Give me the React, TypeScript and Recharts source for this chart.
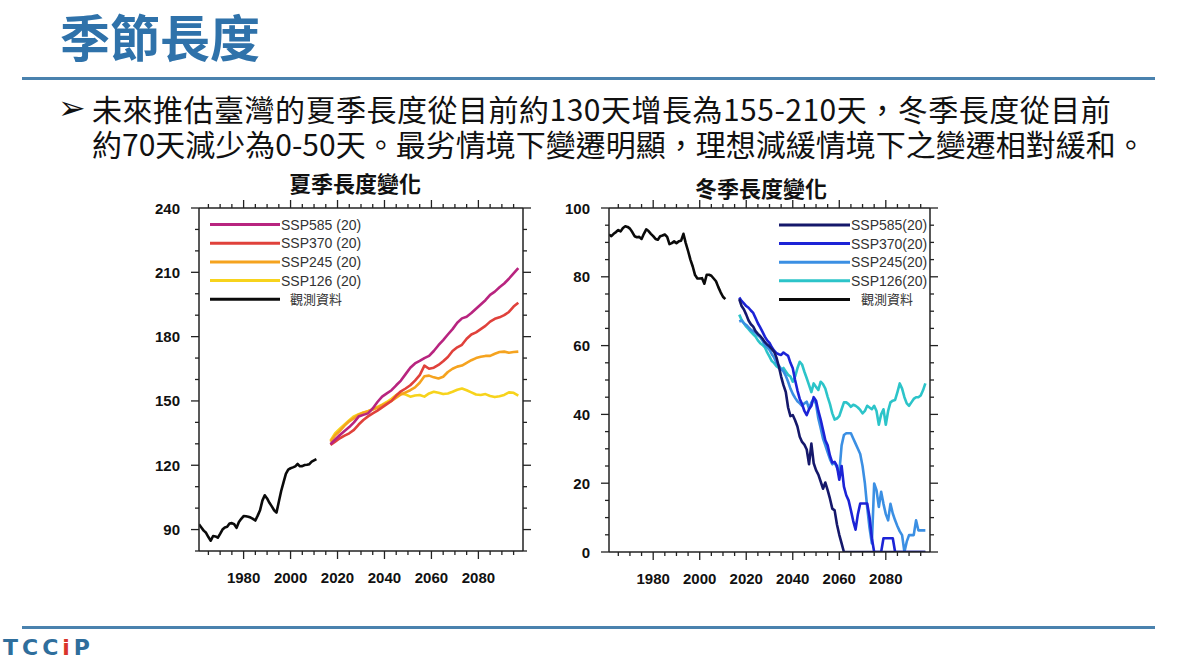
import React from 'react';
import { LineChart, Line, XAxis, YAxis } from 'recharts';

// ---------- categories ----------
const obsYears = Array.from({ length: 51 }, (_, i) => 1961 + i);
const summerYears = Array.from({ length: 41 }, (_, i) => 2017 + 2 * i);
const winterYears = Array.from({ length: 81 }, (_, i) => 2017 + i);

const scenarioNames = ['SSP585', 'SSP370', 'SSP245', 'SSP126'];
const memberCount = '(20)';
const obsLabel = '觀測資料';

const summerColors = ['#b8247f', '#e0413b', '#f5a31f', '#f7d31c'];
const winterColors = ['#15186b', '#1c23d6', '#3b8fe3', '#2cc4c9'];
const obsColor = '#0a0a0a';

// ---------- summer season length (days) ----------
const summerObs = [
  92.5, 91, 89.5, 88.5, 86.5, 84.8, 87, 86.8, 86.2, 88,
  90, 91, 91.3, 92.8, 93, 92.5, 90.8, 93.5, 95, 96.3,
  96.2, 96, 95.6, 95, 94.2, 96.5, 99, 103.5, 106, 104.5,
  102.5, 100.8, 99, 97.9, 103, 108, 112, 116, 118, 118.6,
  119, 119.5, 120.6, 119.5, 119.6, 120.1, 120.2, 120.5, 121.7, 122.3,
  122.9,
];
const summerSSP585 = [
  129.8, 132, 134.1, 136, 137.8, 140, 142.7, 143.5, 144.2, 146.5,
  149.5, 152, 153.5, 155, 157.3, 159.5, 162.5, 165.5, 167.5, 168.7,
  170, 171, 173.3, 176, 178.4, 181, 183.5, 186.5, 188.5, 189.3,
  191, 193, 195, 197, 199.5, 201, 203, 204.8, 207, 209.5, 212,
];
const summerSSP370 = [
  129.5, 131, 132.6, 133.8, 134.9, 136.5, 139, 141.1, 142.8, 144.2,
  145.5, 147, 148.5, 150, 152.5, 154.5, 155.8, 157.3, 159.5, 162,
  166.5, 165, 165.5, 166.8, 168.5, 170.5, 173.3, 175, 176.2, 179,
  181, 182, 183.5, 185, 187, 188.3, 189, 190, 191.5, 194, 195.8,
];
const summerSSP245 = [
  131, 134, 136, 138.5, 140.5, 142, 143.5, 144.5, 145.2, 146,
  146.8, 148, 149, 150, 151.5, 153, 154, 155, 156.3, 158.5,
  161.5, 161.8, 161, 160.5, 161.3, 163.5, 165, 166, 166.5, 167.8,
  169, 170, 170.6, 171, 171, 172, 172.8, 173, 172.5, 172.8, 173,
];
const summerSSP126 = [
  131.5, 135, 137, 139, 141, 142.8, 143.8, 144.6, 145.2, 146.2,
  147.2, 148.3, 149.5, 151, 152.8, 153.5, 153, 152, 152.5, 152.8,
  152, 153.5, 154.3, 153.8, 153.2, 153.5, 154.3, 155.2, 155.8, 155,
  154, 153, 152.8, 153.2, 152.3, 151.8, 152.2, 152.8, 154, 153.8, 152.5,
];

// ---------- winter season length (days) ----------
const winterObs = [
  92.3, 91.8, 92.5, 93, 93.6, 93.2, 94.2, 94.7, 94.5, 94,
  93, 91.8, 91.5, 91.6, 91, 92.5, 93.8, 93.3, 92.5, 91.8,
  91, 90.8, 91.8, 92, 92.3, 91.6, 89.5, 89.8, 90.3, 89.8,
  90.3, 90.5, 92.5, 89.8, 87.5, 85, 83, 80.5, 79.5, 79.5,
  79.6, 78, 80.6, 80.6, 80.3, 79.5, 78.7, 77, 75.5, 74.2,
  73.5,
];
const winterSSP585 = [
  73.5, 71.5, 70.5, 69, 67.3, 66.2, 65.5, 64.2, 63.4, 62.8,
  62, 61, 60.3, 59.7, 59, 58.2, 56.5, 54, 51, 48.5,
  46.5, 42, 39.5, 39.8, 38.3, 36.5, 33.5, 32, 31.2, 29.8,
  25.5, 31.5, 25.8, 23.8, 22.5, 20.5, 18.4, 20.2, 18, 15.5,
  12.6, 12.1, 8, 5, 2.5, 0, 0, 0, 0, 0,
  0, 0, 0, 0, 0, 0, 0, 0, 0, 0,
  0, 0, 0, 0, 0, 0, 0, 0, 0, 0,
  0, 0, 0, 0, 0, 0, 0, 0, 0, 0,
  0,
];
const winterSSP370 = [
  74, 73, 72.3, 71.5, 71, 70.2, 69.5, 68, 66.5, 65.3,
  64, 62.6, 61.5, 60.8, 59.5, 58.5, 57.8, 57.5, 57.3, 58,
  57.5, 57, 55, 53.4, 50, 47, 44.5, 43, 41, 39.8,
  41.5, 42.5, 45, 44, 41, 38.5, 35.5, 32.5, 31, 28,
  26, 26.2, 25, 21, 25, 19, 16.5, 15, 12.1, 9,
  6.5, 11, 14.1, 14.1, 14.1, 14.1, 10.2, 4, 0, 0,
  0, 0, 4, 4, 4, 4, 4, 0, 0, 0,
  0, 0, 0, 0, 0, 0, 0, 0, 0, 0,
  0,
];
const winterSSP245 = [
  67, 67.3, 66.5, 66, 65.3, 64.6, 64.2, 63.7, 63, 62.4,
  61.4, 60.3, 59.5, 58.8, 57.5, 56.5, 55, 54.2, 53.2, 52.5,
  51.2, 49.5, 47.5, 46, 44.8, 43.8, 43.2, 42.5, 43.2, 43.7,
  41.7, 43.5, 44.5, 43, 38.8, 36, 33, 31, 29, 27,
  25.5, 26, 24.5, 23, 31, 34, 34.5, 34.5, 34.5, 33,
  31.5, 30, 28.5, 25, 20, 13, 7, 2.5, 19.9, 18,
  13.1, 17.5, 14, 11, 9.2, 14, 11.2, 9.2, 7.5, 6,
  4.9, 0, 3, 4.9, 4.9, 4.9, 9.2, 6.3, 6.3, 6.3,
  6.3,
];
const winterSSP126 = [
  69, 67.5, 66.5, 65.5, 64.8, 64, 63.3, 62.6, 61.5, 60.7,
  60.2, 59.5, 58, 56.8, 55.5, 54.9, 54, 53.5, 53, 53.5,
  52.5, 51.5, 51, 49.5, 51, 53.4, 55.3, 54.5, 52.4, 50.5,
  48.5, 46.5, 49, 48, 47.1, 49.5, 48.8, 47.5, 45.1, 43,
  40.3, 38.5, 38.8, 39.5, 41.5, 43.5, 43.5, 43, 42.2, 42.8,
  42.5, 42, 41.3, 40.3, 41, 42.5, 42, 41.5, 42.5, 41,
  37, 40, 41.5, 37, 41, 43.5, 44, 44.2, 46.5, 49,
  47.5, 45, 43.2, 42.5, 43.5, 44.5, 45, 45, 45.5, 47,
  49,
];

// ---------- ticks ----------
const xDomain = [1961, 2099];
const xTicks = Array.from({ length: 27 }, (_, i) => 1965 + 5 * i);
const xMajor = [1980, 2000, 2020, 2040, 2060, 2080];
const summerDomain = [80, 240];
const summerYTicks = Array.from({ length: 17 }, (_, i) => 80 + 10 * i);
const summerYMajor = [90, 120, 150, 180, 210, 240];
const winterDomain = [0, 100];
const winterYTicks = Array.from({ length: 21 }, (_, i) => 5 * i);
const winterYMajor = [0, 20, 40, 60, 80, 100];

const toRows = (years: number[], values: number[]) =>
  years.map((year, i) => ({ year, v: values[i] }));

const AXIS_COLOR = '#222';
const TICK_FONT = "'Liberation Sans', Arial, sans-serif";
const CJK = "'Noto Sans CJK TC', 'Noto Sans CJK SC', sans-serif";

function makeTick(side: string, majors: number[], label: boolean) {
  return (props: any) => {
    const x = Number(props.x);
    const y = Number(props.y);
    const val = props.payload.value;
    const major = majors.indexOf(val) >= 0;
    const len = major ? 8 : 4;
    let x2 = x;
    let y2 = y;
    if (side === 'bottom') y2 = y + len;
    else if (side === 'top') y2 = y - len;
    else if (side === 'left') x2 = x - len;
    else x2 = x + len;
    return (
      <g>
        <line x1={x} y1={y} x2={x2} y2={y2} stroke={AXIS_COLOR} strokeWidth={1.3} />
        {label && major && side === 'bottom' && (
          <text x={x} y={y + 31.5} textAnchor="middle" fontFamily={TICK_FONT} fontWeight="bold" fontSize={15} fill="#111">
            {val}
          </text>
        )}
        {label && major && side === 'left' && (
          <text x={x - 19} y={y + 5.5} textAnchor="end" fontFamily={TICK_FONT} fontWeight="bold" fontSize={15} fill="#111">
            {val}
          </text>
        )}
      </g>
    );
  };
}

type Series = { name: string; color: string; rows: { year: number; v: number }[] };

function SeasonChart(p: {
  yDomain: number[];
  yTicks: number[];
  yMajor: number[];
  yWidth: number;
  xHeight: number;
  marginRight: number;
  series: Series[];
}) {
  const axisLine = { stroke: AXIS_COLOR, strokeWidth: 1.5 };
  return (
    <LineChart width={400} height={430} margin={{ top: 37, right: p.marginRight, bottom: 0, left: 0 }}>
      <XAxis xAxisId="b" orientation="bottom" type="number" dataKey="year" domain={xDomain} allowDataOverflow
        ticks={xTicks} interval={0} tickSize={0} tickMargin={0} tickLine={false} axisLine={axisLine}
        height={p.xHeight} tick={makeTick('bottom', xMajor, true)} />
      <XAxis xAxisId="t" orientation="top" type="number" dataKey="year" domain={xDomain} allowDataOverflow
        ticks={xTicks} interval={0} tickSize={0} tickMargin={0} tickLine={false} axisLine={axisLine}
        height={1} tick={makeTick('top', xMajor, false)} />
      <YAxis yAxisId="l" orientation="left" type="number" domain={p.yDomain} allowDataOverflow
        ticks={p.yTicks} interval={0} tickSize={0} tickMargin={0} tickLine={false} axisLine={axisLine}
        width={p.yWidth} tick={makeTick('left', p.yMajor, true)} />
      <YAxis yAxisId="r" orientation="right" type="number" domain={p.yDomain} allowDataOverflow
        ticks={p.yTicks} interval={0} tickSize={0} tickMargin={0} tickLine={false} axisLine={axisLine}
        width={1} tick={makeTick('right', p.yMajor, false)} />
      {p.series.map((s) => (
        <Line key={s.name} xAxisId="b" yAxisId="l" data={s.rows} dataKey="v" name={s.name} type="linear"
          stroke={s.color} strokeWidth={2.6} dot={false} activeDot={false} isAnimationActive={false}
          strokeLinejoin="round" />
      ))}
    </LineChart>
  );
}

function LegendBlock(p: { x1: number; x2: number; y0: number; step: number; colors: string[]; sep: string; obsX: number }) {
  const items = scenarioNames.map((n, i) => ({ label: n + p.sep + memberCount, color: p.colors[i] }));
  return (
    <g>
      {items.map((it, i) => (
        <g key={it.label}>
          <line x1={p.x1} x2={p.x2} y1={p.y0 + i * p.step} y2={p.y0 + i * p.step} stroke={it.color} strokeWidth={3} />
          <text x={p.x2 + 1} y={p.y0 + i * p.step + 5} fontFamily={TICK_FONT} fontSize={14} fill="#333">
            {it.label}
          </text>
        </g>
      ))}
      <line x1={p.x1} x2={p.x2} y1={p.y0 + 4 * p.step} y2={p.y0 + 4 * p.step} stroke={obsColor} strokeWidth={3} />
      <text x={p.obsX} y={p.y0 + 4 * p.step + 5} fontFamily={CJK} fontSize={13} fill="#333">
        {obsLabel}
      </text>
    </g>
  );
}

export default function App() {
  const summerFuture = [summerSSP126, summerSSP245, summerSSP370, summerSSP585];
  const winterFuture = [winterSSP126, winterSSP245, winterSSP370, winterSSP585];
  const summerSeries: Series[] = [
    ...summerFuture.map((vals, i) => ({ name: scenarioNames[3 - i], color: summerColors[3 - i], rows: toRows(summerYears, vals) })),
    { name: obsLabel, color: obsColor, rows: toRows(obsYears, summerObs) },
  ];
  const winterSeries: Series[] = [
    ...winterFuture.map((vals, i) => ({ name: scenarioNames[3 - i], color: winterColors[3 - i], rows: toRows(winterYears, vals) })),
    { name: obsLabel, color: obsColor, rows: toRows(obsYears, winterObs) },
  ];

  return (
    <div style={{ position: 'absolute', left: 0, top: 0, width: 1178, height: 668, background: '#fff', overflow: 'hidden', fontFamily: CJK }}>
      <div style={{ position: 'absolute', left: 60, top: 10, fontSize: 50, lineHeight: '50px', fontWeight: 700, color: '#2f72aa', whiteSpace: 'nowrap' }}>
        季節長度
      </div>
      <div style={{ position: 'absolute', left: 22, top: 77, width: 1133, height: 3, background: '#4a82ae' }} />

      <div style={{ position: 'absolute', left: 58, top: 90, fontSize: 33, lineHeight: '35px', fontFamily: "'DejaVu Sans', sans-serif", color: '#111' }}>
        ➢
      </div>
      <div style={{ position: 'absolute', left: 92, top: 91, fontSize: 30, color: '#111', whiteSpace: 'nowrap' }}>
        <div style={{ height: 35, lineHeight: '35px', letterSpacing: 0.5 }}>未來推估臺灣的夏季長度從目前約130天增長為155-210天，冬季長度從目前</div>
        <div style={{ height: 35, lineHeight: '35px' }}>約70天減少為0-50天。最劣情境下變遷明顯，理想減緩情境下之變遷相對緩和。</div>
      </div>

      <div style={{ position: 'absolute', left: 255, top: 169, width: 200, textAlign: 'center', fontSize: 22, lineHeight: '26px', fontWeight: 700, color: '#111' }}>
        夏季長度變化
      </div>
      <div style={{ position: 'absolute', left: 661, top: 174, width: 200, textAlign: 'center', fontSize: 22, lineHeight: '26px', fontWeight: 700, color: '#111' }}>
        冬季長度變化
      </div>

      <div style={{ position: 'absolute', left: 140, top: 170 }}>
        <SeasonChart yDomain={summerDomain} yTicks={summerYTicks} yMajor={summerYMajor} yWidth={59} xHeight={49} marginRight={16} series={summerSeries} />
      </div>
      <div style={{ position: 'absolute', left: 560, top: 170 }}>
        <SeasonChart yDomain={winterDomain} yTicks={winterYTicks} yMajor={winterYMajor} yWidth={49} xHeight={48} marginRight={29} series={winterSeries} />
      </div>

      <svg style={{ position: 'absolute', left: 0, top: 0 }} width={1178} height={668}>
        <LegendBlock x1={210} x2={280} y0={224.5} step={18.7} colors={summerColors} sep=" " obsX={290} />
        <LegendBlock x1={779} x2={850} y0={225} step={18.6} colors={winterColors} sep="" obsX={861} />
      </svg>

      <div style={{ position: 'absolute', left: 22, top: 626, width: 1133, height: 3, background: '#4a82ae' }} />
      <div style={{ position: 'absolute', left: 3, top: 636, fontSize: 22, lineHeight: '24px', fontWeight: 700, fontFamily: "'DejaVu Sans', sans-serif", letterSpacing: 4, color: '#2f6e9c', whiteSpace: 'nowrap' }}>
        TCC<span style={{ color: '#d9342b' }}>i</span>P
      </div>
    </div>
  );
}
